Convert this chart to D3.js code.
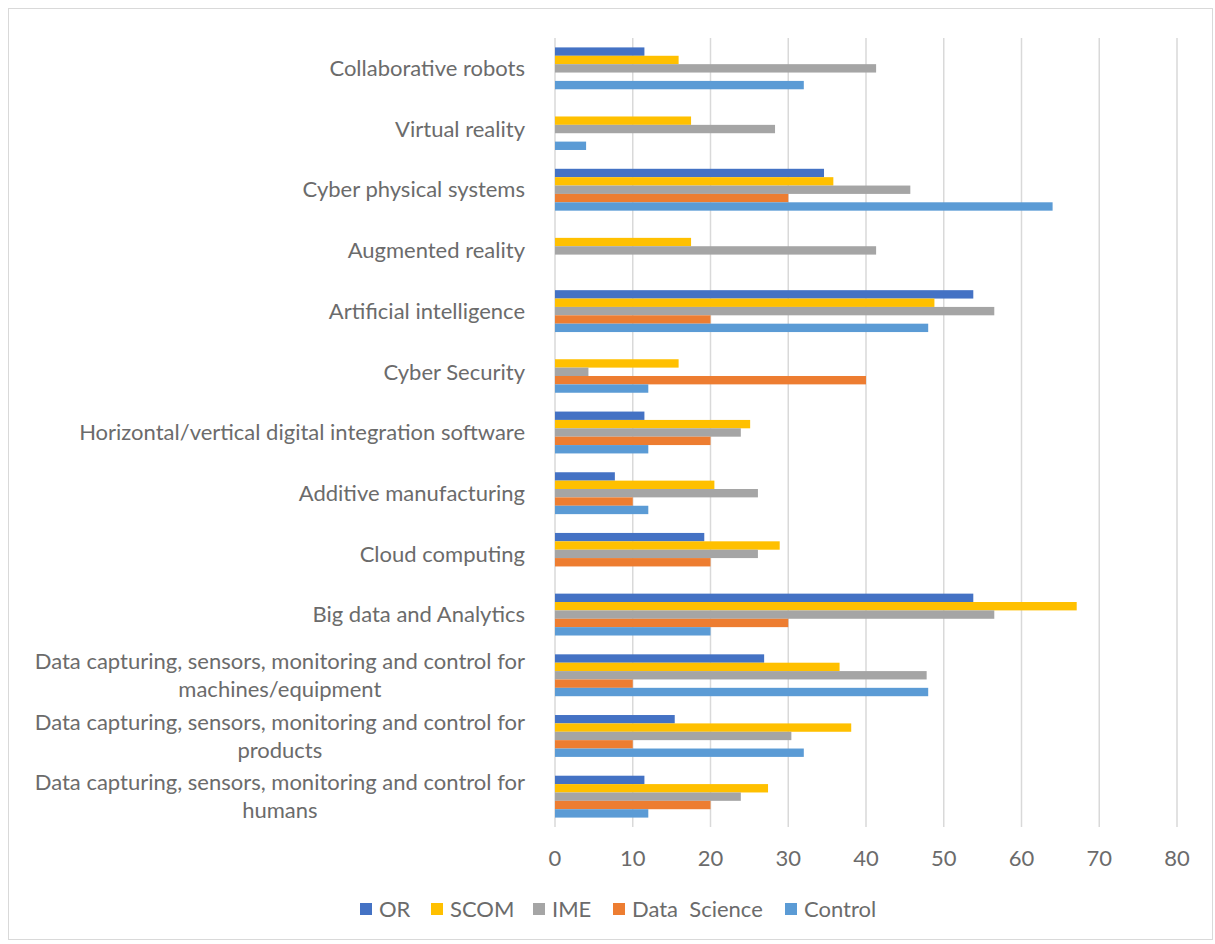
<!DOCTYPE html>
<html>
<head>
<meta charset="utf-8">
<script src="https://cdn.jsdelivr.net/npm/d3@7"></script>
<style>
  body { margin: 0; background: #fff; }
  text { font-family: Lato, "Open Sans", sans-serif; fill: #6b6b6b; }
</style>
</head>
<body>
<svg width="1215" height="944"></svg>
<script>
// categories, bottom to top (Excel order)
const categories = [
    ["Data capturing, sensors, monitoring and control for", "humans"],
    ["Data capturing, sensors, monitoring and control for", "products"],
    ["Data capturing, sensors, monitoring and control for", "machines/equipment"],
    ["Big data and Analytics"],
    ["Cloud computing"],
    ["Additive manufacturing"],
    ["Horizontal/vertical digital integration software"],
    ["Cyber Security"],
    ["Artificial intelligence"],
    ["Augmented reality"],
    ["Cyber physical systems"],
    ["Virtual reality"],
    ["Collaborative robots"]
];

const seriesNames = ["OR", "SCOM", "IME", "Data  Science", "Control"];
const seriesColors = ["#4472C4", "#FFC000", "#A5A5A5", "#ED7D31", "#5B9BD5"];

const orValues      = [11.5, 15.4, 26.9, 53.8, 19.2, 7.7, 11.5, null, 53.8, null, 34.6, null, 11.5];
const scomValues    = [27.4, 38.1, 36.6, 67.1, 28.9, 20.5, 25.1, 15.9, 48.8, 17.5, 35.8, 17.5, 15.9];
const imeValues     = [23.9, 30.4, 47.8, 56.5, 26.1, 26.1, 23.9, 4.3, 56.5, 41.3, 45.7, 28.3, 41.3];
const dsValues      = [20, 10, 10, 30, 20, 10, 20, 40, 20, null, 30, null, null];
const controlValues = [12, 32, 48, 20, null, 12, 12, 12, 48, null, 64, 4, 32];

const xTicks = [0, 10, 20, 30, 40, 50, 60, 70, 80];

const allValues = [orValues, scomValues, imeValues, dsValues, controlValues];

const fontSize = 22;

const svg = d3.select("svg");

// chart border
svg.append("rect")
    .attr("x", 8.5).attr("y", 8.5)
    .attr("width", 1204).attr("height", 931)
    .attr("fill", "none")
    .attr("stroke", "#d9d9d9");

const plotLeft = 555, plotRight = 1177, plotTop = 38, plotBottom = 827;

const x = d3.scaleLinear().domain([0, 80]).range([plotLeft, plotRight]);

const catIdx = categories.map((c, i) => i);
const y = d3.scaleBand()
    .domain(catIdx.slice().reverse())
    .range([plotTop, plotBottom])
    .paddingInner(0.31)
    .paddingOuter(0.155);

const ySeries = d3.scaleBand()
    .domain(seriesNames)
    .range([0, y.bandwidth()]);

// gridlines
svg.append("g")
    .selectAll("line")
    .data(xTicks)
    .enter().append("line")
    .attr("x1", d => x(d)).attr("x2", d => x(d))
    .attr("y1", plotTop).attr("y2", plotBottom)
    .attr("stroke", "#d9d9d9")
    .attr("stroke-width", 1.5);

// bars
const groups = svg.append("g")
    .selectAll("g")
    .data(catIdx)
    .enter().append("g")
    .attr("transform", i => `translate(0,${y(i)})`);

groups.selectAll("rect")
    .data(i => seriesNames.map((s, k) => ({ s, k, v: allValues[k][i] })).filter(d => d.v != null))
    .enter().append("rect")
    .attr("x", x(0))
    .attr("y", d => ySeries(d.s))
    .attr("width", d => x(d.v) - x(0))
    .attr("height", ySeries.bandwidth())
    .attr("fill", d => seriesColors[d.k]);

// category labels
const labelX = 525;
const labels = svg.append("g")
    .selectAll("g")
    .data(catIdx)
    .enter().append("g")
    .attr("transform", i => `translate(0,${y(i) + y.bandwidth() / 2})`);

labels.each(function (i) {
    const lines = categories[i];
    const g = d3.select(this);
    if (lines.length === 1) {
        g.append("text")
            .attr("x", labelX).attr("y", 0)
            .attr("dy", "0.35em")
            .attr("text-anchor", "end")
            .attr("font-size", fontSize)
            .text(lines[0]);
    } else {
        const first = g.append("text")
            .attr("x", labelX).attr("y", -14)
            .attr("dy", "0.35em")
            .attr("text-anchor", "end")
            .attr("font-size", fontSize)
            .text(lines[0]);
        const w = first.node().getComputedTextLength();
        g.append("text")
            .attr("x", labelX - w / 2).attr("y", 14)
            .attr("dy", "0.35em")
            .attr("text-anchor", "middle")
            .attr("font-size", fontSize)
            .text(lines[1]);
    }
});

// x axis tick labels
svg.append("g")
    .selectAll("text")
    .data(xTicks)
    .enter().append("text")
    .attr("x", d => x(d))
    .attr("y", 858)
    .attr("dy", "0.35em")
    .attr("text-anchor", "middle")
    .attr("font-size", fontSize)
    .text(d => d);

// legend
const legendX = [360, 431, 533, 613, 785];
const legend = svg.append("g")
    .selectAll("g")
    .data(seriesNames)
    .enter().append("g")
    .attr("transform", (d, k) => `translate(${legendX[k]},909)`);

legend.append("rect")
    .attr("x", 0).attr("y", -6)
    .attr("width", 12).attr("height", 12)
    .attr("fill", (d, k) => seriesColors[k]);

legend.append("text")
    .attr("x", 19).attr("y", 0)
    .attr("dy", "0.35em")
    .attr("font-size", fontSize)
    .style("white-space", "pre")
    .text(d => d);
</script>
</body>
</html>
